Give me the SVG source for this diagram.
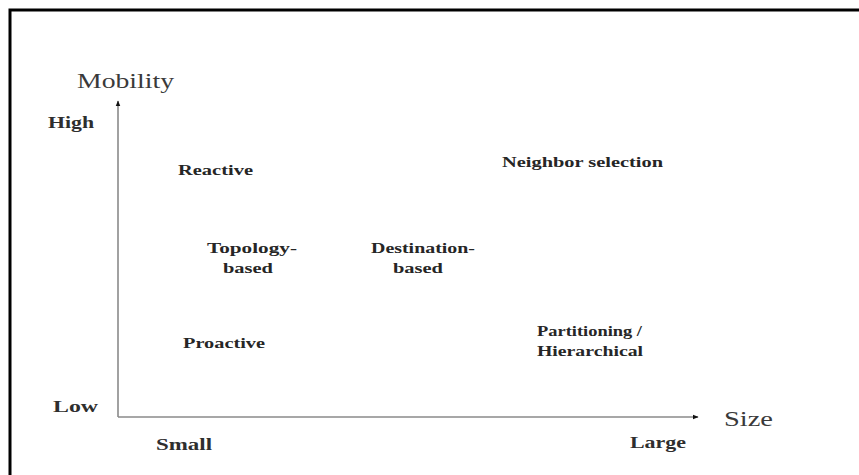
<svg xmlns="http://www.w3.org/2000/svg" width="859" height="475" viewBox="0 0 859 475">
  <style>
    .frame { fill: none; stroke: #000; stroke-width: 3; }
    .axis { fill: none; stroke: #8a8a8a; stroke-width: 1.6; }
    .title { font-family: "Liberation Serif", "Times New Roman", serif; font-size: 21px; fill: #3a3a3a; }
    .tick { font-family: "Liberation Serif", "Times New Roman", serif; font-size: 16px; font-weight: bold; fill: #2e2e2e; }
    .lbl { font-family: "Liberation Serif", "Times New Roman", serif; font-size: 15px; font-weight: bold; fill: #262626; }
  </style>
  <defs>
    <marker id="head" viewBox="0 0 10 10" refX="9" refY="5" markerWidth="6" markerHeight="6" markerUnits="userSpaceOnUse" orient="auto">
      <path d="M0,1 L10,5 L0,9 Z" fill="#111"/>
    </marker>
  </defs>

  <rect width="859" height="475" fill="#fff"/>
  <!-- outer frame: only the top and left sides fall inside the canvas -->
  <path class="frame" d="M10,475 L10,10 L859,10"/>

  <!-- axes -->
  <g id="connectors">
    <path class="axis" d="M118,417 L118,101" marker-end="url(#head)"/>
    <path class="axis" d="M118,417 L698,417" marker-end="url(#head)"/>
  </g>

  <!-- axis titles and ends -->
  <g id="axis-labels">
    <text class="title" x="77" y="88" textLength="97" lengthAdjust="spacingAndGlyphs">Mobility</text>
    <text class="title" x="724" y="426" textLength="49" lengthAdjust="spacingAndGlyphs">Size</text>
    <text class="tick" x="48" y="128" textLength="46" lengthAdjust="spacingAndGlyphs">High</text>
    <text class="tick" x="53" y="412" textLength="45" lengthAdjust="spacingAndGlyphs">Low</text>
    <text class="tick" x="156" y="450" textLength="56" lengthAdjust="spacingAndGlyphs">Small</text>
    <text class="tick" x="630" y="448" textLength="56" lengthAdjust="spacingAndGlyphs">Large</text>
  </g>

  <!-- routing categories -->
  <g id="reactive">
    <text class="lbl" x="178" y="175" textLength="75" lengthAdjust="spacingAndGlyphs">Reactive</text>
  </g>
  <g id="neighbor-selection">
    <text class="lbl" x="502" y="167" textLength="161" lengthAdjust="spacingAndGlyphs">Neighbor selection</text>
  </g>
  <g id="topology-based">
    <text class="lbl" x="207" y="253" textLength="90" lengthAdjust="spacingAndGlyphs">Topology-</text>
    <text class="lbl" x="223" y="273" textLength="50" lengthAdjust="spacingAndGlyphs">based</text>
  </g>
  <g id="destination-based">
    <text class="lbl" x="371" y="253" textLength="104" lengthAdjust="spacingAndGlyphs">Destination-</text>
    <text class="lbl" x="393" y="273" textLength="50" lengthAdjust="spacingAndGlyphs">based</text>
  </g>
  <g id="proactive">
    <text class="lbl" x="183" y="348" textLength="82" lengthAdjust="spacingAndGlyphs">Proactive</text>
  </g>
  <g id="partitioning-hierarchical">
    <text class="lbl" x="537" y="336" textLength="105" lengthAdjust="spacingAndGlyphs">Partitioning /</text>
    <text class="lbl" x="537" y="356" textLength="106" lengthAdjust="spacingAndGlyphs">Hierarchical</text>
  </g>
</svg>
